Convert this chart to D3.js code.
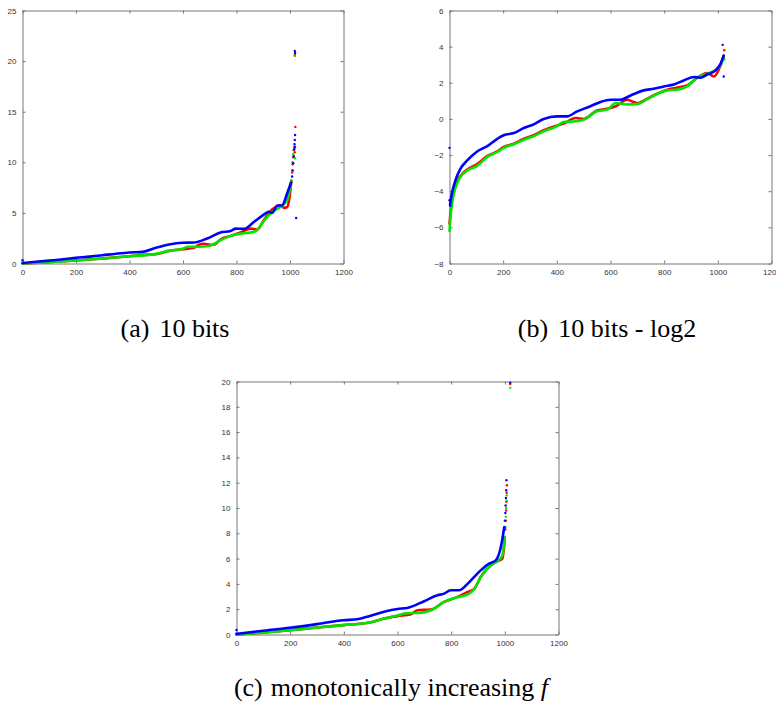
<!DOCTYPE html>
<html>
<head>
<meta charset="utf-8">
<script src="https://cdn.jsdelivr.net/npm/d3@7"></script>
<style>
  html, body { margin: 0; padding: 0; background: #fff; }
  svg { display: block; }
</style>
</head>
<body>
<svg id="chart" width="776" height="713"></svg>
<script>
// ---- tick labels ----
const xTicks = [0, 200, 400, 600, 800, 1000, 1200];
const yTicksA = [0, 5, 10, 15, 20, 25];
const yTicksB = [-8, -6, -4, -2, 0, 2, 4, 6];
const yTicksC = [0, 2, 4, 6, 8, 10, 12, 14, 16, 18, 20];

// ---- (a) 10 bits : sorted values, [index, value] ----
const aRed = [[0,0],[100,0.14],[199,0.3],[300,0.5],[399,0.72],[450,0.85],[498,0.92],[548,1.25],[598,1.41],[640,1.55],[660,1.85],[678,1.95],[700,1.85],[715,1.85],[740,2.37],[778,2.73],[815,3.06],[852,3.45],[877,3.36],[902,4.28],[933,5.33],[965,5.76],[978,5.5],[990,5.6],[998,6.5],[1005,8.2]];
const aGreen = [[0,0],[100,0.14],[199,0.3],[300,0.5],[399,0.72],[498,0.95],[548,1.25],[598,1.45],[620,1.65],[660,1.65],[700,1.75],[740,2.3],[778,2.73],[815,2.95],[852,3.05],[877,3.3],[902,4.2],[933,5.1],[965,5.6],[990,6.3],[1005,8.2]];
const aBlue = [[0,0.05],[50,0.17],[100,0.28],[150,0.42],[199,0.56],[250,0.68],[299,0.82],[350,0.97],[399,1.09],[449,1.15],[498,1.55],[548,1.88],[598,2.05],[640,2.07],[690,2.47],[740,3.06],[778,3.22],[798,3.45],[827,3.42],[865,4.1],[902,4.84],[921,5.1],[933,5.0],[952,5.7],[971,5.75],[989,6.9],[1004,8.0]];
const aRedTail = [[1008,9],[1010,9.8],[1012,10.5],[1014,11.2],[1016,11.5],[1018,11.0],[1020,13.5],[1018,20.6]];
const aGreenTail = [[1008,9.2],[1010,10],[1012,10.8],[1015,11.3],[1017,11.7],[1019,10.4],[1018,20.5]];
const aBlueTail = [[0,0.33],[1008,8.6],[1010,9.2],[1012,9.9],[1014,10.6],[1016,11.3],[1017,11.8],[1018,12.2],[1019,12.7],[1019,11.5],[1018,21.0],[1019,20.8],[1023,4.5]];

// ---- (b) 10 bits - log2 ----
const bRed = [[0,-5.8],[5,-5.0],[10,-4.5],[22,-3.7],[41,-3.15],[66,-2.8],[103,-2.5],[141,-2.05],[178,-1.8],[202,-1.55],[240,-1.37],[277,-1.1],[314,-0.9],[351,-0.63],[401,-0.36],[425,-0.26],[470,0.05],[500,0.0],[550,0.47],[588,0.56],[620,0.7],[662,1.06],[699,0.88],[737,1.12],[774,1.4],[811,1.62],[848,1.73],[886,1.85],[923,2.28],[960,2.54],[985,2.35],[1010,2.96],[1022,3.5]];
const bGreen = [[0,-6.2],[5,-5.2],[10,-4.6],[22,-3.8],[41,-3.2],[66,-2.85],[103,-2.6],[141,-2.1],[178,-1.83],[202,-1.6],[240,-1.4],[277,-1.15],[314,-0.95],[351,-0.68],[401,-0.4],[425,-0.17],[470,-0.13],[500,-0.05],[550,0.42],[588,0.52],[620,0.88],[662,0.8],[699,0.82],[737,1.1],[774,1.38],[811,1.58],[848,1.62],[886,1.8],[923,2.28],[960,2.5],[985,2.64],[1010,2.96],[1022,3.45]];
const bBlue = [[2,-4.77],[8,-4.2],[22,-3.4],[41,-2.75],[66,-2.3],[103,-1.8],[141,-1.5],[178,-1.1],[202,-0.9],[240,-0.78],[277,-0.5],[314,-0.3],[351,0.0],[401,0.14],[438,0.14],[476,0.42],[525,0.7],[563,0.94],[600,1.06],[637,1.06],[675,1.3],[724,1.58],[761,1.67],[799,1.8],[836,1.91],[873,2.13],[911,2.32],[935,2.28],[960,2.46],[991,2.68],[1010,3.05],[1022,3.5]];
const bRedTail = [[1024,3.8]];
const bGreenTail = [[1024,3.3]];
const bBlueTail = [[0,-1.6],[0,-4.5],[3,-4.8],[1018,4.1],[1022,2.35]];

// ---- (c) monotonically increasing f ----
const cRed = [[0,0],[100,0.15],[199,0.34],[300,0.55],[398,0.74],[497,0.95],[550,1.26],[600,1.45],[650,1.6],[674,1.92],[724,1.97],[774,2.58],[823,2.97],[861,3.36],[886,3.6],[910,4.55],[948,5.47],[973,5.8],[991,6.0],[1000,7.7]];
const cGreen = [[0,0],[100,0.15],[199,0.34],[300,0.55],[398,0.74],[497,0.95],[550,1.26],[600,1.5],[625,1.66],[650,1.7],[674,1.7],[724,1.9],[774,2.58],[823,2.95],[861,3.15],[886,3.6],[910,4.55],[948,5.47],[973,5.8],[991,6.25],[1000,7.7]];
const cBlue = [[0,0.05],[100,0.3],[199,0.53],[300,0.82],[398,1.13],[450,1.2],[497,1.47],[550,1.8],[600,2.02],[637,2.1],[699,2.63],[749,3.1],[774,3.23],[798,3.5],[830,3.5],[861,4.0],[886,4.55],[910,5.07],[941,5.6],[966,5.86],[985,6.9],[998,8.5]];
const cRedTail = [[1002,8.3],[1004,9],[1005,9.8],[1006,10.5],[1007,11.2],[1008,11.8],[1020,19.8]];
const cGreenTail = [[1002,8.5],[1004,9.3],[1005,10],[1006,10.6],[1007,11],[1020,19.5]];
const cBlueTail = [[0,0.35],[1000,9],[1002,9.6],[1003,10.2],[1004,10.8],[1005,11.4],[1006,12.2],[1020,19.9]];

const colors = { red: "#ff0000", green: "#00e600", blue: "#0000ff" };
const serif = "'Liberation Serif', 'Times New Roman', Times, serif";
const sans = "'Liberation Sans', Arial, Helvetica, sans-serif";

const svg = d3.select("#chart");

function drawPanel(cfg) {
  const g = svg.append("g").attr("transform", `translate(${cfg.left},${cfg.top})`);
  const x = d3.scaleLinear().domain([0, 1200]).range([0, cfg.w]);
  const y = d3.scaleLinear().domain(cfg.yDomain).range([cfg.h, 0]);

  // axes with inward ticks on all four sides
  const axB = d3.axisBottom(x).tickValues(xTicks).tickSizeInner(-3).tickSizeOuter(0).tickPadding(6).tickFormat(d3.format("d"));
  const axL = d3.axisLeft(y).tickValues(cfg.yTicks).tickSizeInner(-3).tickSizeOuter(0).tickPadding(6).tickFormat(d3.format("d"));
  const axT = d3.axisTop(x).tickValues(xTicks).tickSizeInner(-3).tickSizeOuter(0).tickFormat("");
  const axR = d3.axisRight(y).tickValues(cfg.yTicks).tickSizeInner(-3).tickSizeOuter(0).tickFormat("");

  g.append("g").attr("transform", `translate(0,${cfg.h})`).call(axB);
  g.append("g").call(axL);
  g.append("g").call(axT);
  g.append("g").attr("transform", `translate(${cfg.w},0)`).call(axR);
  g.selectAll(".domain, .tick line").attr("stroke", "#777").attr("stroke-width", 1);
  g.selectAll(".tick text")
    .style("font-family", sans).style("font-size", "8px").attr("fill", "#333");

  const line = d3.line().x(d => x(d[0])).y(d => y(d[1])).curve(d3.curveMonotoneX);
  cfg.series.forEach(s => {
    g.append("path").datum(s.body).attr("d", line)
      .attr("fill", "none").attr("stroke", colors[s.color])
      .attr("stroke-width", 2.6).attr("stroke-linejoin", "round").attr("stroke-linecap", "round");
    g.selectAll(null).data(s.tail).enter().append("circle")
      .attr("cx", d => x(d[0])).attr("cy", d => y(d[1])).attr("r", 1.2)
      .attr("fill", colors[s.color]);
  });

  const cap = svg.append("text")
    .style("font-family", serif).style("font-size", "26px").attr("fill", "#000")
    .attr("x", cfg.capX).attr("y", cfg.capY).attr("text-anchor", "middle");
  cfg.caption(cap);
}

drawPanel({
  left: 22.5, top: 10.5, w: 321, h: 253, yDomain: [0, 25], yTicks: yTicksA,
  series: [
    { color: "red", body: aRed, tail: aRedTail },
    { color: "green", body: aGreen, tail: aGreenTail },
    { color: "blue", body: aBlue, tail: aBlueTail }
  ],
  capX: 175, capY: 337,
  caption: t => { t.append("tspan").text("(a)"); t.append("tspan").attr("dx", 10).text("10 bits"); }
});

drawPanel({
  left: 449.5, top: 10.5, w: 322, h: 253, yDomain: [-8, 6], yTicks: yTicksB,
  series: [
    { color: "red", body: bRed, tail: bRedTail },
    { color: "green", body: bGreen, tail: bGreenTail },
    { color: "blue", body: bBlue, tail: bBlueTail }
  ],
  capX: 607, capY: 337,
  caption: t => { t.append("tspan").text("(b)"); t.append("tspan").attr("dx", 10).text("10 bits - log2"); }
});

drawPanel({
  left: 236.5, top: 381.5, w: 322, h: 253, yDomain: [0, 20], yTicks: yTicksC,
  series: [
    { color: "red", body: cRed, tail: cRedTail },
    { color: "green", body: cGreen, tail: cGreenTail },
    { color: "blue", body: cBlue, tail: cBlueTail }
  ],
  capX: 391, capY: 696,
  caption: t => {
    t.append("tspan").text("(c)");
    t.append("tspan").attr("dx", 8).text("monotonically increasing ");
    t.append("tspan").style("font-style", "italic").text("f");
  }
});
</script>
</body>
</html>
